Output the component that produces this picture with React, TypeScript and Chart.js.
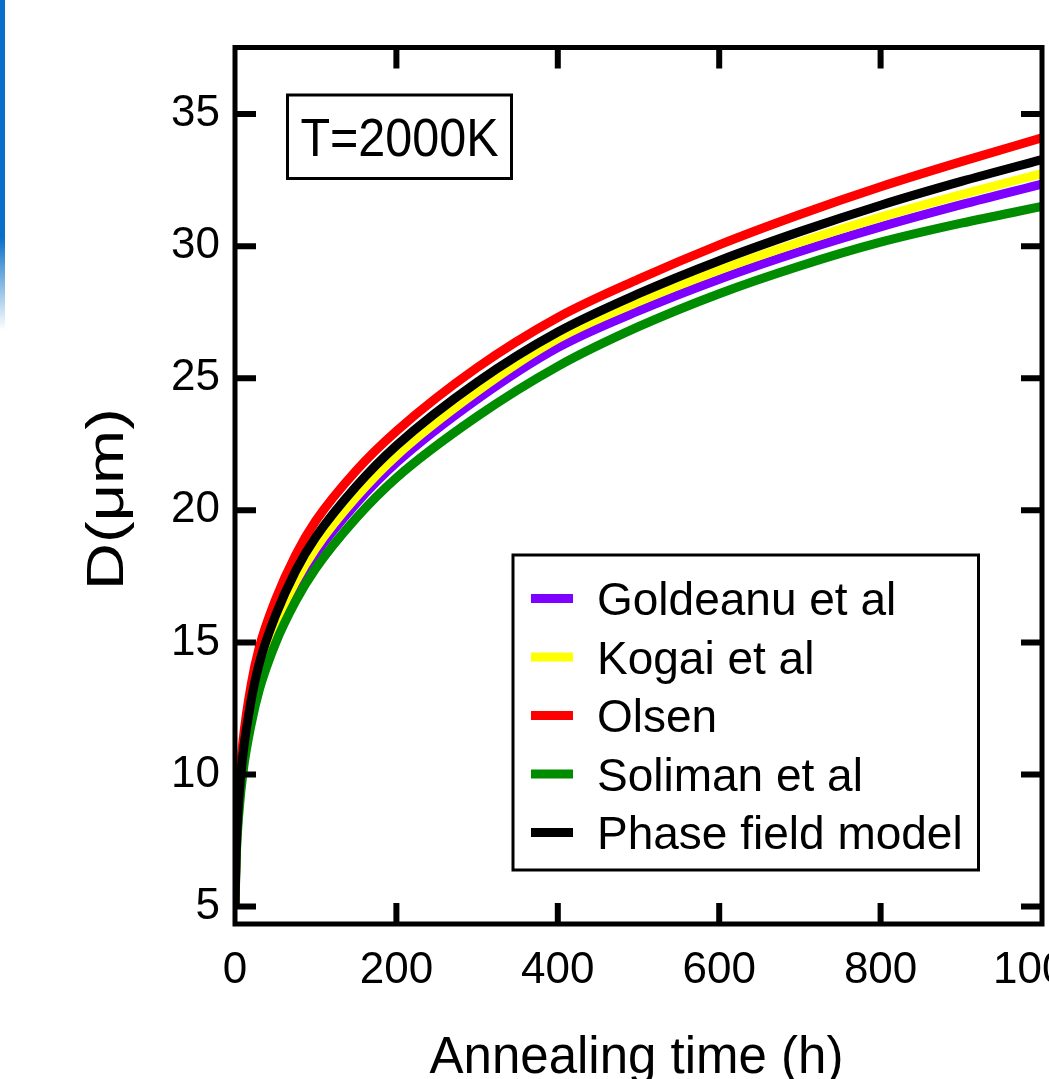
import React, { useEffect, useRef } from "react";
import { Chart, registerables } from "chart.js";

Chart.register(...registerables);

// ---------- data ----------
const times = [0, 1, 2, 5, 10, 20, 30, 50, 75, 100, 150, 200, 300, 400, 500, 600, 700, 800, 900, 1000];
const goldeanu = [5.0, 6.4, 7.4, 8.9, 10.5, 12.35, 13.7, 15.5, 17.1, 18.35, 20.25, 21.8, 24.2, 26.16, 27.55, 28.75, 29.8, 30.73, 31.57, 32.35];
const kogai = [5.0, 6.5, 7.5, 9.0, 10.6, 12.5, 13.9, 15.7, 17.3, 18.57, 20.5, 22.07, 24.5, 26.5, 27.9, 29.1, 30.15, 31.1, 31.95, 32.75];
const olsen = [5.0, 6.8, 7.9, 9.6, 11.3, 13.4, 14.8, 16.6, 18.3, 19.6, 21.5, 23.0, 25.4, 27.3, 28.75, 30.05, 31.2, 32.25, 33.2, 34.1];
const soliman = [5.0, 6.2, 7.2, 8.6, 10.1, 11.9, 13.2, 14.95, 16.55, 17.8, 19.7, 21.23, 23.55, 25.45, 26.95, 28.2, 29.25, 30.15, 30.87, 31.5];
const phaseField = [5.0, 6.6, 7.6, 9.2, 10.8, 12.8, 14.2, 16.0, 17.7, 18.98, 20.9, 22.45, 24.85, 26.75, 28.2, 29.45, 30.55, 31.55, 32.45, 33.28];

const seriesLabels = ["Goldeanu et al", "Kogai et al", "Olsen", "Soliman et al", "Phase field model"];
const seriesValues = [goldeanu, kogai, olsen, soliman, phaseField];
const seriesColors = ["#7F00FF", "#FFFF00", "#FF0000", "#008C00", "#000000"];
const seriesDrawOrder = [4, 3, 2, 1, 0];

const xTicks = [0, 200, 400, 600, 800, 1000];
const yTicks = [5, 10, 15, 20, 25, 30, 35];
const xMin = 0;
const xMax = 1000;
const yMin = 4.34;
const yMax = 37.52;

const xTitle = "Annealing time (h)";
const yTitle = "D(μm)";
const noteText = "T=2000K";

const FONT = "'Liberation Sans', Arial, Helvetica, sans-serif";

// ---------- plugins ----------
const framePlugin = {
  id: "frameTicks",
  afterDatasetsDraw(chart: any) {
    const { ctx, chartArea: ca, scales } = chart;
    const xs = scales.x;
    const ys = scales.y;
    ctx.save();
    ctx.strokeStyle = "#000";
    ctx.lineCap = "butt";
    ctx.lineWidth = 6;
    const tl = 21;
    xTicks.forEach((v) => {
      const px = xs.getPixelForValue(v);
      if (Math.abs(px - ca.left) < 3 || Math.abs(px - ca.right) < 3) return;
      ctx.beginPath();
      ctx.moveTo(px, ca.bottom);
      ctx.lineTo(px, ca.bottom - tl);
      ctx.moveTo(px, ca.top);
      ctx.lineTo(px, ca.top + tl);
      ctx.stroke();
    });
    yTicks.forEach((v) => {
      const py = ys.getPixelForValue(v);
      ctx.beginPath();
      ctx.moveTo(ca.left, py);
      ctx.lineTo(ca.left + tl, py);
      ctx.moveTo(ca.right, py);
      ctx.lineTo(ca.right - tl, py);
      ctx.stroke();
    });
    ctx.lineWidth = 5;
    ctx.lineJoin = "miter";
    ctx.strokeRect(ca.left, ca.top, ca.right - ca.left, ca.bottom - ca.top);
    ctx.restore();
  },
  afterDraw(chart: any) {
    const { ctx, chartArea: ca } = chart;
    ctx.save();
    ctx.fillStyle = "#000";
    ctx.strokeStyle = "#000";

    // axis titles
    ctx.font = `51px ${FONT}`;
    ctx.textAlign = "center";
    ctx.textBaseline = "alphabetic";
    ctx.fillText(xTitle, (ca.left + ca.right) / 2 - 2, 1073);

    ctx.save();
    ctx.translate(123, 499);
    ctx.rotate(-Math.PI / 2);
    ctx.scale(1.25, 1);
    ctx.font = `52px ${FONT}`;
    ctx.fillText(yTitle, 0, 0);
    ctx.restore();

    // temperature note box
    const bx0 = ca.left + 52.5;
    const by0 = ca.top + 47.5;
    const bx1 = ca.left + 276.5;
    const by1 = ca.top + 131;
    ctx.lineWidth = 3;
    ctx.strokeRect(bx0, by0, bx1 - bx0, by1 - by0);
    ctx.save();
    ctx.translate((bx0 + bx1) / 2, 156);
    ctx.scale(0.915, 1);
    ctx.font = `53px ${FONT}`;
    ctx.textAlign = "center";
    ctx.fillText(noteText, 0, 0);
    ctx.restore();

    // legend
    const lx0 = ca.left + 278;
    const ly0 = ca.top + 507.5;
    const lx1 = ca.left + 743.5;
    const ly1 = ca.top + 822.5;
    ctx.lineWidth = 3;
    ctx.strokeRect(lx0, ly0, lx1 - lx0, ly1 - ly0);
    ctx.font = `46px ${FONT}`;
    ctx.textAlign = "left";
    const rowStart = ly0 + 43.5;
    const rowGap = 58.5;
    seriesLabels.forEach((lab, i) => {
      const ry = rowStart + i * rowGap;
      ctx.fillStyle = seriesColors[i];
      ctx.fillRect(lx0 + 18, ry - 4.5, 42, 9);
      ctx.fillStyle = "#000";
      ctx.fillText(lab, lx0 + 84, ry + 16.5);
    });
    ctx.restore();
  },
};

export default function App() {
  const canvasRef = useRef<HTMLCanvasElement | null>(null);

  useEffect(() => {
    const canvas = canvasRef.current;
    if (!canvas) return;
    const datasets = seriesLabels.map((label, i) => ({
      label,
      data: times.map((t, j) => ({ x: t, y: seriesValues[i][j] })),
      borderColor: seriesColors[i],
      backgroundColor: seriesColors[i],
      borderWidth: 9,
      pointRadius: 0,
      fill: false,
      cubicInterpolationMode: "monotone" as const,
      order: seriesDrawOrder[i],
    }));

    const chart = new Chart(canvas, {
      type: "line",
      data: { datasets },
      options: {
        animation: false,
        responsive: false,
        devicePixelRatio: 1,
        layout: { padding: { top: 47.5, right: 7, left: 0, bottom: 0 } },
        plugins: {
          legend: { display: false },
          tooltip: { enabled: false },
          title: { display: false },
        },
        scales: {
          x: {
            type: "linear",
            min: xMin,
            max: xMax,
            grid: { display: false, drawTicks: false },
            border: { display: false },
            afterBuildTicks: (scale: any) => {
              scale.ticks = xTicks.map((v) => ({ value: v }));
            },
            afterFit: (scale: any) => {
              scale.height = 155;
              scale.paddingLeft = 0;
              scale.paddingRight = 0;
            },
            ticks: {
              color: "#000",
              padding: 20,
              maxRotation: 0,
              autoSkip: false,
              font: { family: FONT, size: 44 },
              callback: (v: any) => String(v),
            },
          },
          y: {
            type: "linear",
            min: yMin,
            max: yMax,
            grid: { display: false, drawTicks: false },
            border: { display: false },
            afterBuildTicks: (scale: any) => {
              scale.ticks = yTicks.map((v) => ({ value: v }));
            },
            afterFit: (scale: any) => {
              scale.width = 235;
              scale.paddingTop = 0;
              scale.paddingBottom = 0;
            },
            ticks: {
              color: "#000",
              padding: 15,
              autoSkip: false,
              font: { family: FONT, size: 44 },
              callback: (v: any) => String(v),
            },
          },
        },
      },
      plugins: [framePlugin],
    });
    return () => chart.destroy();
  }, []);

  return (
    <div style={{ position: "fixed", left: 0, top: 0, width: 1049, height: 1079, background: "#fff", overflow: "hidden" }}>
      <canvas ref={canvasRef} width={1049} height={1079} style={{ display: "block", width: 1049, height: 1079 }} />
      <div
        style={{
          position: "absolute",
          left: 0,
          top: 0,
          width: 5,
          height: 330,
          background: "linear-gradient(to bottom, #0870C8 0%, #0870C8 72%, rgba(8,112,200,0) 100%)",
        }}
      />
    </div>
  );
}
